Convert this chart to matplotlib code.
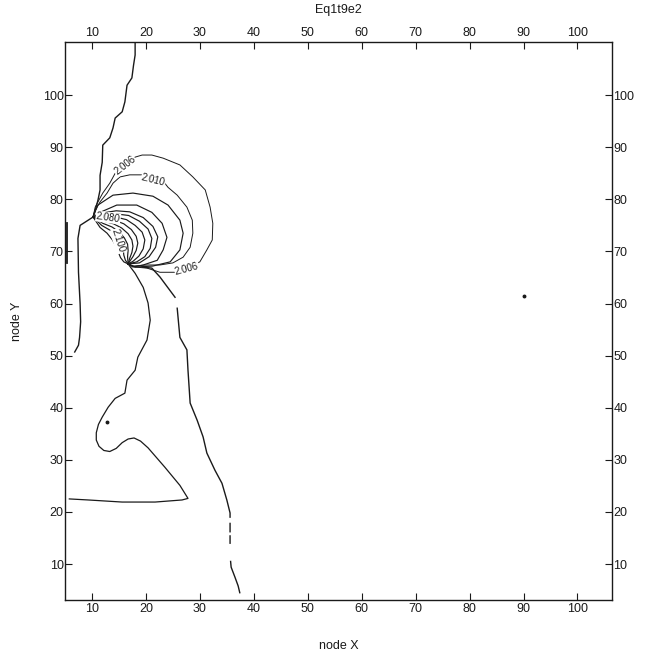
import matplotlib.pyplot as plt
import numpy as np

plt.rcParams["font.family"] = ["Liberation Sans", "DejaVu Sans"]

# isolines picked off the solver output, in node coordinates
ridge_x = [18.0, 18.0, 17.7, 17.4, 16.5, 16.1, 15.6, 14.3, 13.9, 13.3, 12.0,
           11.9, 11.5, 11.5, 11.1, 10.6, 10.2]
ridge_y = [110.2, 107.7, 105.7, 103.3, 101.9, 98.7, 96.8, 95.6, 93.7, 91.8,
           90.4, 87.1, 84.6, 81.8, 79.8, 77.9, 76.6]

west_x = [10.2, 9.0, 7.8, 7.4, 7.5, 7.8, 7.9, 7.7, 7.5, 6.8]
west_y = [76.6, 75.8, 75.0, 72.5, 66.0, 60.0, 56.5, 53.5, 52.0, 50.7]

wall_x = [5.3, 5.3]
wall_y = [67.8, 75.4]

tongue_x = [16.7, 18.0, 19.5, 20.4, 20.8, 20.2, 18.5, 18.0, 16.5, 16.1, 14.3,
            13.0, 11.9, 11.2, 10.8, 10.8, 11.3, 12.2, 13.3, 14.5, 15.6, 16.7,
            17.8, 19.0, 20.4, 23.5, 26.3, 27.8, 26.7, 21.7, 15.6, 9.3, 5.8]
tongue_y = [67.6, 65.8, 63.1, 60.1, 56.8, 53.0, 49.7, 47.2, 45.3, 42.8, 41.8,
            40.1, 38.2, 36.8, 35.2, 33.8, 32.6, 31.8, 31.6, 32.2, 33.3, 34.0,
            34.2, 33.6, 32.3, 28.6, 25.1, 22.6, 22.3, 21.9, 21.9, 22.3, 22.5]

front_x = [19.3, 21.1, 22.6, 25.4, np.nan, 25.8, 26.3, 27.6, 27.8, 28.2, 29.5,
           30.6, 31.3, 32.8, 34.1, 35.0, 35.6, 35.6, np.nan, 35.6, 35.6,
           np.nan, 35.6, 35.6, np.nan, 35.7, 35.8, 36.5, 37.1, 37.4]
front_y = [67.0, 66.8, 65.1, 61.2, np.nan, 59.1, 53.5, 51.1, 47.2, 40.9, 37.6,
           34.4, 31.3, 28.0, 25.5, 22.3, 19.8, 19.0, np.nan, 17.8, 16.2,
           np.nan, 15.4, 14.0, np.nan, 10.5, 9.4, 7.5, 5.8, 4.5]

# nested isolines around the source, outermost first
level_vals = [2.006, 2.010, 2.020, 2.030, 2.040, 2.050, 2.060, 2.070, 2.080,
              2.090, 2.100, 2.110]
level_x = [
    [10.2, 10.6, 11.1, 12.0, 13.3, 14.3, 16.1, 18.0, 19.3, 21.1, 23.2, 26.3,
     28.7, 31.0, 31.9, 32.4, 32.3, 31.3, 30.0, 27.6, 25.4, 22.6, 20.2, 18.0,
     16.7],
    [10.2, 10.6, 11.5, 12.8, 13.9, 15.2, 17.0, 19.3, 21.3, 23.5, 24.1, 25.8,
     27.6, 28.6, 28.7, 28.2, 26.9, 25.0, 22.6, 20.2, 17.6, 16.7],
    [10.2, 11.1, 13.9, 17.6, 21.3, 24.1, 26.3, 26.9, 26.3, 24.5, 21.3, 18.0,
     16.7],
    [10.2, 11.5, 14.6, 18.3, 21.1, 23.0, 23.9, 23.2, 22.1, 19.5, 17.6, 16.7],
    [10.2, 12.0, 14.5, 17.0, 19.5, 21.3, 22.2, 21.8, 20.6, 18.8, 16.7],
    [10.2, 12.2, 14.5, 16.8, 18.8, 20.4, 21.1, 20.8, 19.8, 18.3, 16.7],
    [10.2, 12.3, 14.4, 16.4, 18.0, 19.3, 19.8, 19.5, 18.7, 17.6, 16.7],
    [10.2, 12.3, 14.2, 15.9, 17.3, 18.2, 18.5, 18.2, 17.6, 17.0, 16.7],
    [10.2, 12.2, 14.0, 15.5, 16.7, 17.4, 17.6, 17.4, 17.0, 16.7],
    [10.2, 12.0, 13.7, 15.0, 16.0, 16.6, 16.7, 16.6, 16.7],
    [10.2, 11.8, 13.3, 14.5, 15.3, 15.8, 15.9, 16.2, 16.7],
    [10.2, 11.5, 12.8, 13.8, 14.5, 14.9, 15.3, 15.9, 16.7],
]
level_y = [
    [76.6, 78.5, 79.5, 81.2, 83.1, 85.0, 86.6, 88.1, 88.5, 88.5, 87.9, 86.6,
     84.3, 81.8, 78.5, 75.4, 72.2, 70.3, 68.0, 66.8, 66.0, 66.0, 66.8, 67.0,
     67.6],
    [76.6, 77.9, 79.5, 81.2, 83.1, 84.3, 84.7, 84.7, 83.9, 83.1, 82.3, 80.8,
     78.5, 76.0, 73.5, 70.8, 68.9, 67.8, 67.4, 67.4, 67.2, 67.6],
    [76.6, 78.9, 80.8, 81.2, 80.6, 78.9, 76.0, 73.5, 70.3, 68.0, 67.2, 67.0,
     67.6],
    [76.6, 77.5, 78.9, 78.9, 77.5, 75.4, 72.7, 70.3, 68.3, 67.4, 67.0, 67.6],
    [76.6, 77.4, 77.8, 77.6, 76.5, 74.8, 72.8, 70.8, 69.0, 67.8, 67.6],
    [76.6, 77.0, 77.2, 76.9, 75.8, 74.3, 72.5, 70.6, 69.0, 68.0, 67.6],
    [76.6, 76.6, 76.6, 76.1, 75.0, 73.7, 72.2, 70.5, 69.1, 68.1, 67.6],
    [76.6, 76.2, 76.0, 75.3, 74.2, 72.9, 71.6, 70.2, 69.0, 68.1, 67.6],
    [76.6, 75.8, 75.3, 74.5, 73.4, 72.2, 71.0, 69.8, 68.7, 67.6],
    [76.6, 75.4, 74.7, 73.8, 72.6, 71.4, 70.2, 69.0, 67.6],
    [76.6, 75.0, 74.1, 72.9, 71.6, 70.4, 69.3, 68.3, 67.6],
    [76.6, 74.6, 73.5, 72.2, 70.9, 69.8, 68.8, 68.0, 67.6],
]

# tiny closed isolines that collapse to specks
speck_x = [12.8, 90.0]
speck_y = [37.2, 61.4]

# inline contour labels: value, x, y, angle
contour_labels = [
    (2.006, 16.1, 86.5, 38),
    (2.010, 21.4, 83.8, -14),
    (2.080, 13.0, 76.5, -8),
    (2.100, 14.9, 72.0, -72),
    (2.006, 27.6, 66.6, 15),
]

fig = plt.figure(figsize=(6.5, 6.6), dpi=100)
ax = fig.add_axes([0.1, 0.0909, 0.8415, 0.8455])

ink = "#1a1a1a"
ax.plot(ridge_x, ridge_y, color=ink, lw=1.0)
ax.plot(west_x, west_y, color=ink, lw=1.0)
ax.plot(wall_x, wall_y, color=ink, lw=1.3)
ax.plot(tongue_x, tongue_y, color=ink, lw=0.9)
ax.plot(front_x, front_y, color=ink, lw=1.0)

for val, xs, ys in zip(level_vals, level_x, level_y):
    lw = 0.7 if val < 2.02 else 0.85
    ax.plot(xs, ys, color=ink, lw=lw)

ax.plot(speck_x, speck_y, ls="none", marker="o", ms=1.8, color=ink)

for val, lx, ly, ang in contour_labels:
    ax.text(lx, ly, f"{val:.3f}", rotation=ang, rotation_mode="anchor",
            ha="center", va="center", fontsize=7, color=ink,
            bbox=dict(boxstyle="square,pad=0.05", fc="white", ec="none"))

ax.set_xlim(5, 106.4)
ax.set_ylim(3.1, 110.2)
ax.set_xticks(range(10, 101, 10))
ax.set_yticks(range(10, 101, 10))

ax.tick_params(direction="in", length=5, width=0.8, labelsize=9,
               top=True, right=True, labeltop=True, labelright=True,
               colors=ink)
ax.tick_params(axis="y", pad=1)
ax.tick_params(axis="x", pad=2)

for side in ax.spines.values():
    side.set_linewidth(1.0)
    side.set_color(ink)

ax.set_xlabel("node X", fontsize=9, labelpad=18, color=ink)
ax.set_ylabel("node Y", fontsize=9, labelpad=14, color=ink)
ax.set_title("Eq1t9e2", fontsize=9, pad=21, color=ink)

fig.savefig("out.png", dpi=100, facecolor="white")
